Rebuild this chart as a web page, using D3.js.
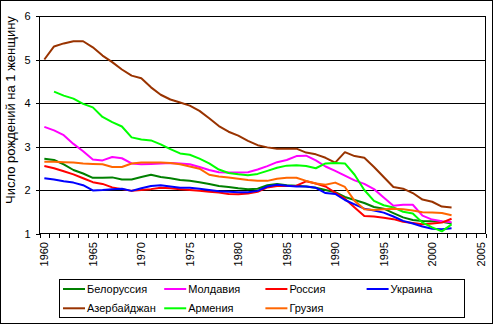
<!DOCTYPE html>
<html>
<head>
<meta charset="utf-8">
<script src="https://cdn.jsdelivr.net/npm/d3@7"></script>
<style>
body { margin: 0; background: #fff; }
svg { display: block; font-family: "Liberation Sans", Arial, sans-serif; }
</style>
</head>
<body>
<div class="canvas"></div>
<script>
// total fertility rate, births per woman, 1960-2002
const years = d3.range(1960, 2003)
const categories = d3.range(1960, 2006)
const yearLabels = d3.range(1960, 2006, 5)
const yTicks = [1, 2, 3, 4, 5, 6]

const belarus    = [2.72, 2.69, 2.59, 2.46, 2.38, 2.28, 2.28, 2.29, 2.24, 2.24, 2.30, 2.35, 2.30, 2.27, 2.23, 2.21,
                    2.18, 2.14, 2.09, 2.07, 2.04, 2.02, 2.03, 2.11, 2.14, 2.11, 2.10, 2.08, 2.05, 2.00, 1.95,
                    1.84, 1.77, 1.70, 1.61, 1.57, 1.47, 1.37, 1.31, 1.29, 1.28, 1.27, 1.23]
const moldova    = [3.45, 3.37, 3.26, 3.06, 2.89, 2.70, 2.68, 2.76, 2.73, 2.61, 2.59, 2.60, 2.61, 2.62, 2.61, 2.59,
                    2.53, 2.46, 2.41, 2.40, 2.40, 2.41, 2.47, 2.55, 2.64, 2.69, 2.78, 2.79, 2.68, 2.54, 2.44,
                    2.33, 2.22, 2.14, 2.02, 1.83, 1.64, 1.66, 1.66, 1.41, 1.32, 1.28, 1.26]
const russia     = [2.55, 2.50, 2.43, 2.36, 2.27, 2.18, 2.14, 2.06, 2.02, 1.98, 2.00, 2.02, 2.05, 2.04, 2.02, 2.00,
                    1.98, 1.96, 1.94, 1.91, 1.90, 1.92, 1.96, 2.06, 2.09, 2.09, 2.10, 2.20, 2.15, 2.08, 1.94,
                    1.80, 1.60, 1.40, 1.39, 1.36, 1.33, 1.27, 1.24, 1.21, 1.23, 1.25, 1.34]
const ukraine    = [2.27, 2.24, 2.20, 2.17, 2.11, 1.99, 2.00, 2.02, 2.03, 1.98, 2.04, 2.09, 2.11, 2.08, 2.05, 2.05,
                    2.03, 2.00, 1.97, 1.96, 1.95, 1.95, 1.98, 2.08, 2.12, 2.10, 2.08, 2.08, 2.05, 1.93, 1.91,
                    1.77, 1.67, 1.57, 1.53, 1.48, 1.39, 1.29, 1.23, 1.16, 1.11, 1.10, 1.12]
const azerbaijan = [5.00, 5.30, 5.37, 5.42, 5.42, 5.28, 5.09, 4.94, 4.77, 4.63, 4.57, 4.36, 4.19, 4.08, 4.01, 3.94,
                    3.82, 3.65, 3.47, 3.34, 3.25, 3.13, 3.03, 2.98, 2.95, 2.95, 2.95, 2.86, 2.82, 2.74, 2.63,
                    2.87, 2.78, 2.74, 2.53, 2.30, 2.07, 2.03, 1.93, 1.78, 1.73, 1.62, 1.60]
const armenia    = [null, 4.26, 4.17, 4.10, 3.98, 3.90, 3.68, 3.56, 3.46, 3.21, 3.16, 3.14, 3.05, 2.94, 2.84, 2.81,
                    2.72, 2.61, 2.47, 2.39, 2.36, 2.34, 2.37, 2.44, 2.51, 2.56, 2.57, 2.55, 2.50, 2.61, 2.62,
                    2.61, 2.35, 2.00, 1.75, 1.65, 1.60, 1.50, 1.46, 1.25, 1.14, 1.05, 1.21]
const georgia    = [2.65, 2.65, 2.64, 2.63, 2.61, 2.60, 2.59, 2.53, 2.53, 2.61, 2.63, 2.63, 2.63, 2.62, 2.59, 2.54,
                    2.49, 2.35, 2.31, 2.29, 2.26, 2.23, 2.21, 2.21, 2.26, 2.28, 2.28, 2.21, 2.15, 2.12, 2.17,
                    2.07, 1.75, 1.56, 1.54, 1.56, 1.57, 1.56, 1.53, 1.49, 1.48, 1.47, 1.42]

const names  = ["Белоруссия", "Молдавия", "Россия", "Украина", "Азербайджан", "Армения", "Грузия"]
const colors = ["#008000", "#ff00ff", "#ff0000", "#0000ff", "#993300", "#00ff00", "#ff6600"]
const values = [belarus, moldova, russia, ukraine, azerbaijan, armenia, georgia]

const series = names.map((name, i) => ({
    name: name,
    color: colors[i],
    points: years.map((yr, j) => ({ year: yr, value: values[i][j] }))
}))

const width  = 495
const height = 325
const plot = { left: 39.5, right: 485.5, top: 16, bottom: 233.5 }

const svg = d3.select(".canvas")
    .append("svg")
    .attr("width", width)
    .attr("height", height)

// outer frame
svg.append("rect")
    .attr("x", 0.5).attr("y", 0.5)
    .attr("width", 492).attr("height", 323)
    .attr("fill", "#fff")
    .attr("stroke", "#000")

const x = d3.scaleBand().domain(categories).range([plot.left, plot.right])
const xEdge = d3.scaleLinear().domain([1959.5, 2005.5]).range([plot.left, plot.right])
const y = d3.scaleLinear().domain([1, 6]).range([plot.bottom, plot.top])

const cx = d => x(d) + x.bandwidth() / 2

// horizontal gridlines
svg.append("g")
    .attr("transform", `translate(${plot.left},0)`)
    .call(d3.axisLeft(y).tickValues([2, 3, 4, 5]).tickSize(-(plot.right - plot.left)).tickFormat(""))
    .call(g => g.select(".domain").remove())
    .selectAll("line")
    .attr("stroke", "#000")
    .attr("shape-rendering", "crispEdges")

// y axis
svg.append("g")
    .attr("transform", `translate(${plot.left},0)`)
    .call(d3.axisLeft(y).tickValues(yTicks).tickSize(4).tickPadding(5).tickFormat(d3.format("d")))
    .call(g => g.select(".domain").remove())
    .call(g => g.selectAll("line").attr("stroke", "#000").attr("shape-rendering", "crispEdges"))
    .call(g => g.selectAll("text")
        .attr("font-family", "Liberation Sans, Arial, sans-serif")
        .attr("font-size", 11)
        .attr("fill", "#000"))

// x axis tick marks between categories
svg.append("g")
    .attr("transform", `translate(0,${plot.bottom})`)
    .call(d3.axisBottom(xEdge).tickValues(d3.range(1959.5, 2006, 1)).tickSize(4).tickFormat(""))
    .call(g => g.select(".domain").remove())
    .selectAll("line")
    .attr("stroke", "#000")
    .attr("shape-rendering", "crispEdges")

// x axis labels, rotated
svg.append("g")
    .attr("transform", `translate(0,${plot.bottom})`)
    .call(d3.axisBottom(x).tickValues(yearLabels).tickSize(0).tickFormat(d3.format("d")))
    .call(g => g.select(".domain").remove())
    .selectAll("text")
    .attr("font-family", "Liberation Sans, Arial, sans-serif")
    .attr("font-size", 11)
    .attr("fill", "#000")
    .attr("text-anchor", "end")
    .attr("transform", "translate(0,8.5) rotate(-90)")
    .attr("x", 0)
    .attr("y", 0)
    .attr("dy", "0.36em")

// plot border
svg.append("rect")
    .attr("x", plot.left).attr("y", plot.top)
    .attr("width", plot.right - plot.left).attr("height", plot.bottom - plot.top)
    .attr("fill", "none")
    .attr("stroke", "#000")
    .attr("shape-rendering", "crispEdges")

// axis title
svg.append("text")
    .attr("transform", "translate(15,110) rotate(-90)")
    .attr("text-anchor", "middle")
    .attr("font-size", 13)
    .text("Число рождений на 1 женщину")

const line = d3.line()
    .defined(d => d.value != null)
    .x(d => cx(d.year))
    .y(d => y(d.value))

svg.append("g")
    .selectAll("path")
    .data(series)
    .enter()
    .append("path")
    .attr("fill", "none")
    .attr("stroke", d => d.color)
    .attr("stroke-width", 2)
    .attr("stroke-linejoin", "round")
    .attr("d", d => line(d.points))

// legend
const legend = svg.append("g")

legend.append("rect")
    .attr("x", 59.5).attr("y", 279.5)
    .attr("width", 405).attr("height", 38)
    .attr("fill", "#fff")
    .attr("stroke", "#000")
    .attr("shape-rendering", "crispEdges")

const item = legend.selectAll("g.item")
    .data(series)
    .enter()
    .append("g")
    .attr("class", "item")
    .attr("transform", (d, i) => `translate(${63 + (i % 4) * 101.2},${289 + Math.floor(i / 4) * 19.3})`)

item.append("line")
    .attr("x1", 0).attr("x2", 22)
    .attr("stroke", d => d.color)
    .attr("stroke-width", 2)

item.append("text")
    .attr("x", 24)
    .attr("dy", "0.36em")
    .attr("font-size", 11)
    .text(d => d.name)
</script>
</body>
</html>
